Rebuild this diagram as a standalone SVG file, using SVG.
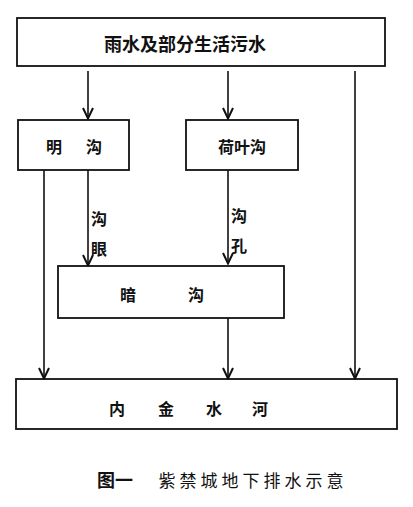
<svg xmlns="http://www.w3.org/2000/svg" width="413" height="507" viewBox="0 0 413 507">
  <defs>
    <marker id="arr" viewBox="0 0 14 14" refX="13" refY="7" markerWidth="14" markerHeight="14" markerUnits="userSpaceOnUse" orient="auto">
      <path d="M2,2 L12.5,7 L2,12" fill="none" stroke="#111" stroke-width="2"/>
    </marker>
    <style>
      .box { fill: #fff; stroke: #111; stroke-width: 1.8; }
      .t { font-family: "Noto Sans CJK SC", "Noto Sans CJK TC", sans-serif; font-size: 16px; fill: #111; text-anchor: middle; dominant-baseline: central; }
      .b { font-weight: bold; }
      .ln { fill: none; stroke: #111; stroke-width: 1.6; }
    </style>
  </defs>
  <rect width="413" height="507" fill="#fff"/>

  <g id="source">
    <rect class="box" x="17" y="18" width="368" height="48"/>
    <text class="t b" x="185" y="43" style="font-size:18px">雨水及部分生活污水</text>
  </g>

  <g id="minggou">
    <rect class="box" x="18" y="120" width="111" height="50"/>
    <text class="t b" x="54" y="146">明</text>
    <text class="t b" x="94" y="146">沟</text>
  </g>

  <g id="heyegou">
    <rect class="box" x="186" y="120" width="112" height="50"/>
    <text class="t b" x="242" y="146">荷叶沟</text>
  </g>

  <g id="angou">
    <rect class="box" x="58" y="266" width="226" height="52"/>
    <text class="t b" x="128" y="294">暗</text>
    <text class="t b" x="196" y="294">沟</text>
  </g>

  <g id="neijinshuihe">
    <rect class="box" x="16" y="379" width="381" height="50"/>
    <text class="t b" x="117" y="408">内</text>
    <text class="t b" x="166" y="408">金</text>
    <text class="t b" x="214" y="408">水</text>
    <text class="t b" x="260" y="408">河</text>
  </g>

  <g id="connectors">
    <line class="ln" x1="88" y1="71" x2="88" y2="119" marker-end="url(#arr)"/>
    <line class="ln" x1="228" y1="71" x2="228" y2="119" marker-end="url(#arr)"/>
    <line class="ln" x1="355" y1="71" x2="355" y2="379" marker-end="url(#arr)"/>
    <line class="ln" x1="44" y1="170" x2="44" y2="379" marker-end="url(#arr)"/>
    <line class="ln" x1="88" y1="170" x2="88" y2="266" marker-end="url(#arr)"/>
    <line class="ln" x1="228" y1="170" x2="228" y2="264" marker-end="url(#arr)"/>
    <line class="ln" x1="228" y1="318" x2="228" y2="379" marker-end="url(#arr)"/>
    <text class="t b" x="99" y="218">沟</text>
    <text class="t b" x="99" y="248">眼</text>
    <text class="t b" x="239" y="215">沟</text>
    <text class="t b" x="239" y="245">孔</text>
  </g>

  <g id="caption">
    <text class="t b" x="115" y="479" style="font-size:18px">图一</text>
    <text class="t" x="253" y="479" style="font-size:17px;letter-spacing:4px">紫禁城地下排水示意</text>
  </g>
</svg>
